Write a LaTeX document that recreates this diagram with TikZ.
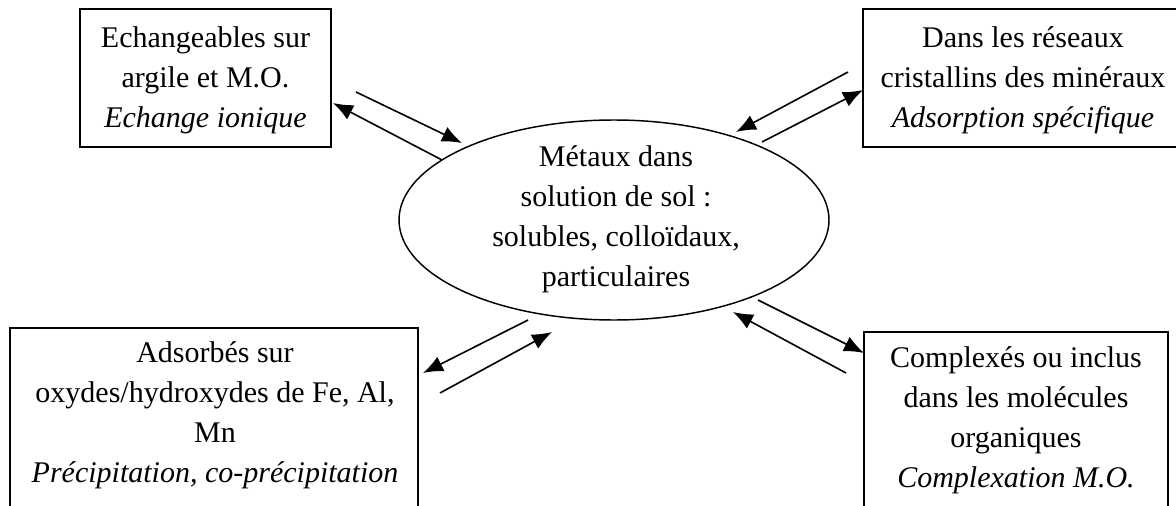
\documentclass[tikz,border=0pt]{standalone}
\usepackage{fontspec}
\setmainfont{Liberation Serif}
\usetikzlibrary{arrows.meta,shapes.geometric}
\begin{document}
\begin{tikzpicture}[x=0.75pt,y=-0.75pt,
  boxnode/.style={draw=black,line width=1.1pt,rectangle,inner sep=0pt},
  ovalnode/.style={draw=black,line width=1.1pt,ellipse,inner sep=0pt,minimum width=322.5pt,minimum height=150pt},
  txt/.style={align=center,inner sep=0pt,font=\fontsize{22.5pt}{30pt}\selectfont},
  flow/.style={line width=1.2pt,-{Latex[length=15pt,width=12pt]}}]
\clip (0,0) rectangle (1176,506);
\fill[white] (0,0) rectangle (1176,506);
% boxes
\node[boxnode,minimum width=188.25pt,minimum height=103.5pt] (tl) at (205.5,78) {};
\node[boxnode,minimum width=240pt,minimum height=103.5pt] (tr) at (1023,78) {};
\node[boxnode,minimum width=306pt,minimum height=151.5pt] (bl) at (214,429) {};
\node[boxnode,minimum width=228pt,minimum height=148.5pt] (br) at (1016,431) {};
\node[ovalnode] (el) at (614,220) {};
% texts
\node[txt] (tltxt) at (205.5,80) {Echangeables sur\\argile et M.O.\\\textit{Echange ionique}};
\node[txt] (trtxt) at (1023,80) {Dans les réseaux\\cristallins des minéraux\\\textit{Adsorption spécifique}};
\node[txt] (eltxt) at (616,219) {Métaux dans\\solution de sol :\\solubles, colloïdaux,\\particulaires};
\node[txt] (bltxt) at (215,415) {Adsorbés sur\\oxydes/hydroxydes de Fe, Al,\\Mn\\\textit{Précipitation, co-précipitation}};
\node[txt] (brtxt) at (1016,420) {Complexés ou inclus\\dans les molécules\\organiques\\\textit{Complexation M.O.}};
% arrow end points
\coordinate (a1s) at (356,92);  \coordinate (a1e) at (462,143);
\coordinate (a2s) at (442,160); \coordinate (a2e) at (333,103);
\coordinate (a3s) at (848,72);  \coordinate (a3e) at (736,132);
\coordinate (a4s) at (762,142); \coordinate (a4e) at (863,90);
\coordinate (a5s) at (528,320); \coordinate (a5e) at (423,373);
\coordinate (a6s) at (440,393); \coordinate (a6e) at (552,332);
\coordinate (a7s) at (758,300); \coordinate (a7e) at (864,353);
\coordinate (a8s) at (846,373); \coordinate (a8e) at (733,312);
\draw[flow] (a1s) -- (a1e);
\draw[flow] (a2s) -- (a2e);
\draw[flow] (a3s) -- (a3e);
\draw[flow] (a4s) -- (a4e);
\draw[flow] (a5s) -- (a5e);
\draw[flow] (a6s) -- (a6e);
\draw[flow] (a7s) -- (a7e);
\draw[flow] (a8s) -- (a8e);
\end{tikzpicture}
\end{document}
